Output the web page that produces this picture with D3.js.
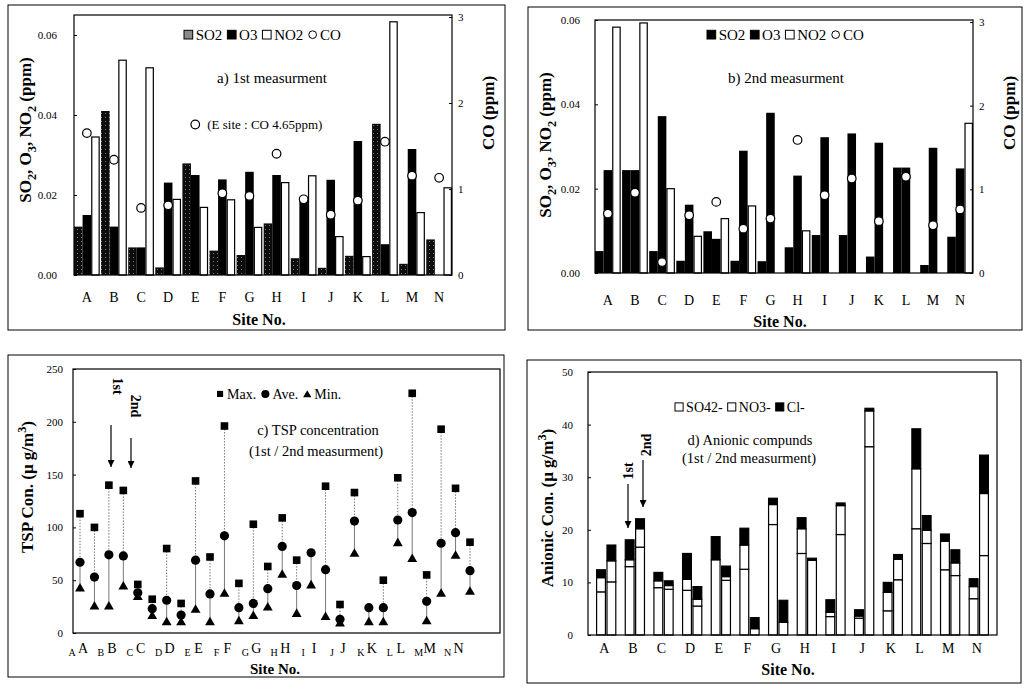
<!DOCTYPE html>
<html>
<head>
<meta charset="utf-8">
<script src="https://cdn.jsdelivr.net/npm/d3@7"></script>
<style>
  body { margin: 0; background: #fff; }
  svg { font-family: "Liberation Serif", "Times New Roman", serif; }
  .axis line { stroke: #000; }
  .axis text { font-size: 11px; fill: #000; font-family: "Liberation Serif", serif; }
</style>
</head>
<body>
<svg id="fig" width="1028" height="691"></svg>
<script>
// sites
var sites = ["A", "B", "C", "D", "E", "F", "G", "H", "I", "J", "K", "L", "M", "N"];

// a) 1st measurement (ppm)
var so2First = [0.0121, 0.041, 0.0069, 0.0019, 0.0279, 0.0061, 0.005, 0.0129, 0.0042, 0.0018, 0.0048, 0.0378, 0.0028, 0.0089];
var o3First = [0.015, 0.0121, 0.0069, 0.0231, 0.025, 0.0239, 0.0258, 0.025, 0.0188, 0.0238, 0.0335, 0.0077, 0.0315, 0];
var no2First = [0.0345, 0.0537, 0.0518, 0.0189, 0.0169, 0.0188, 0.0119, 0.0231, 0.0248, 0.0096, 0.0046, 0.0633, 0.0156, 0.0218];
var coFirst = [1.65, 1.34, 0.78, 0.81, 4.65, 0.95, 0.92, 1.41, 0.88, 0.7, 0.865, 1.55, 1.155, 1.13];

// b) 2nd measurement (ppm)
var so2Second = [0.0052, 0.0244, 0.0052, 0.0029, 0.0099, 0.0029, 0.0028, 0.0061, 0.009, 0.009, 0.0039, 0.025, 0.0019, 0.0086];
var o3Second = [0.0244, 0.0244, 0.0372, 0.0162, 0.0081, 0.029, 0.038, 0.0231, 0.0322, 0.0331, 0.0309, 0.025, 0.0297, 0.0248];
var no2Second = [0.0583, 0.0593, 0.020, 0.0087, 0.0129, 0.0159, 0, 0.0100, 0, 0, 0, 0, 0, 0.0355];
var coSecond = [0.71, 0.96, 0.13, 0.69, 0.85, 0.53, 0.65, 1.59, 0.93, 1.13, 0.62, 1.15, 0.57, 0.76];

// c) TSP (ug/m3), 1st and 2nd measurement
var tspMax1 = [113, 140, 46, 80, 144, 196, 103, 109, null, 27, null, 147, 55, 137];
var tspAve1 = [67, 74, 38, 31, 69, 92, 28, 82, 76, 13, 24, 107, 30, 95];
var tspMin1 = [41, 24, 33, 9, 21, 36, 15, 54, 44, 8, 9, 84, 10, 72];
var tspMax2 = [100, 135, 32, 28, 72, 47, 63, 69, 139, 133, 50, 227, 193, 86];
var tspAve2 = [53, 73, 23, 17, 37, 24, 42, 45, 60, 106, 24, 114, 85, 59];
var tspMin2 = [24, 43, 15, 9, 9, 10, 23, 17, 14, 74, 9, 69, 36, 38];

// d) anionic compounds (ug/m3), 1st and 2nd measurement
var so4First = [8.2, 13.0, 9.0, 8.5, 14.3, 12.5, 21.0, 15.5, 3.5, 3.2, 4.6, 20.2, 12.4, 6.9];
var no3First = [2.7, 1.3, 1.3, 2.1, 0, 4.6, 3.8, 4.7, 0.8, 0.4, 3.5, 11.4, 5.4, 2.3];
var clFirst = [1.5, 3.8, 1.6, 4.9, 4.4, 3.2, 1.2, 2.1, 2.4, 1.2, 1.9, 7.6, 1.4, 1.5];
var so4Second = [10.1, 16.7, 8.7, 5.5, 10.4, 1.2, 2.4, 14.2, 19.1, 35.8, 10.5, 17.4, 11.3, 15.1];
var no3Second = [4.0, 3.5, 0.7, 1.3, 0.7, 0, 0, 0, 5.5, 6.8, 3.9, 2.5, 2.4, 11.8];
var clSecond = [3.0, 1.9, 0.9, 2.4, 2.0, 2.1, 4.2, 0.4, 0.5, 0.5, 0.9, 2.8, 2.5, 7.3];

// tick labels
var gasTicks = [0, 0.02, 0.04, 0.06];
var coTicks = [0, 1, 2, 3];
var tspTicks = [0, 50, 100, 150, 200, 250];
var anionTicks = [0, 10, 20, 30, 40, 50];

var svg = d3.select("#fig");
var defs = svg.append("defs");
// stippled fill for SO2 bars of the 1st measurement
var stip = defs.append("pattern").attr("id", "stip")
  .attr("patternUnits", "userSpaceOnUse").attr("width", 4).attr("height", 4);
stip.append("rect").attr("width", 4).attr("height", 4).attr("fill", "#0d0d0d");
stip.append("rect").attr("x", 1).attr("y", 1).attr("width", 1).attr("height", 1).attr("fill", "#777");
var mk = defs.append("marker").attr("id", "arr").attr("viewBox", "0 0 10 10")
  .attr("refX", 10).attr("refY", 5).attr("markerWidth", 8).attr("markerHeight", 7)
  .attr("markerUnits", "userSpaceOnUse").attr("orient", "auto");
mk.append("path").attr("d", "M0,0L10,5L0,10Z").attr("fill", "#000");

function frame(g, f) {
  g.append("rect").attr("x", f[0]).attr("y", f[1])
    .attr("width", f[2] - f[0]).attr("height", f[3] - f[1])
    .attr("fill", "none").attr("stroke", "#000").attr("stroke-width", 1);
}

// text with sub (1) / sup (-1) parts
function richText(g, parts, size) {
  var t = g.append("text").attr("font-size", size);
  var prev = 0;
  parts.forEach(function (p) {
    var s = typeof p === "string" ? 0 : p[1];
    var txt = typeof p === "string" ? p : p[0];
    var lvl = function (v) { return v > 0 ? 0.3 : v < 0 ? -0.4 : 0; };
    var ts = t.append("tspan").text(txt).attr("dy", (lvl(s) - lvl(prev)) * size);
    if (s !== 0) ts.attr("font-size", size * 0.72);
    prev = s;
  });
  return t;
}

function yLabel(g, x, y, parts, size) {
  richText(g, parts, size).attr("font-weight", "bold").attr("text-anchor", "middle")
    .attr("transform", "translate(" + x + "," + y + ") rotate(-90)");
}

function legend(g, x0, y0, items, size) {
  var cx = x0;
  var s = size * 0.58;
  items.forEach(function (it) {
    if (it.shape === "rect") {
      g.append("rect").attr("x", cx).attr("y", y0 - s - 1).attr("width", s).attr("height", s)
        .attr("fill", it.fill).attr("stroke", it.stroke || "#000").attr("stroke-width", 1);
    } else if (it.shape === "ring") {
      g.append("circle").attr("cx", cx + s / 2).attr("cy", y0 - s / 2 - 1).attr("r", s / 2 - 0.5)
        .attr("fill", "#fff").attr("stroke", "#000").attr("stroke-width", 1);
    } else if (it.shape === "sq") {
      g.append("rect").attr("x", cx + 1).attr("y", y0 - s).attr("width", s - 2).attr("height", s - 2).attr("fill", "#000");
    } else if (it.shape === "dot") {
      g.append("circle").attr("cx", cx + s / 2).attr("cy", y0 - s / 2 - 1).attr("r", s / 2).attr("fill", "#000");
    } else if (it.shape === "tri") {
      g.append("path").attr("d", d3.symbol(d3.symbolTriangle).size(30)())
        .attr("transform", "translate(" + (cx + s / 2) + "," + (y0 - s / 2) + ")").attr("fill", "#000");
    }
    cx += s + 3;
    var t = g.append("text").attr("x", cx).attr("y", y0).attr("font-size", size).text(it.label);
    cx += t.node().getComputedTextLength() + 5;
  });
}

// ---------- panels a and b ----------
function gasPanel(cfg) {
  var g = svg.append("g");
  var b = cfg.box;
  frame(g, cfg.frame);
  var x = d3.scaleBand().domain(sites).range([b.l, b.r]).paddingInner(0.05);
  var xs = d3.scaleBand().domain(["so2", "o3", "no2"]).range([0, x.bandwidth()]);
  var y = d3.scaleLinear().domain([0, cfg.yMax]).range([b.b, b.t]);
  var yc = d3.scaleLinear().domain([0, 3]).range([b.b, cfg.coTop]);

  var series = [
    { key: "so2", vals: cfg.so2, fill: cfg.so2Fill, stroke: "none" },
    { key: "o3", vals: cfg.o3, fill: "#000", stroke: "none" },
    { key: "no2", vals: cfg.no2, fill: "#fff", stroke: "#000" }
  ];
  series.forEach(function (s) {
    g.selectAll(".b" + s.key)
      .data(s.vals.map(function (v, i) { return { site: sites[i], v: v }; }).filter(function (d) { return d.v > 0; }))
      .enter()
      .append("rect")
      .attr("x", function (d) { return x(d.site) + xs(s.key) + (s.stroke === "none" ? 0 : 0.6); })
      .attr("y", function (d) { return y(d.v); })
      .attr("width", xs.bandwidth() - (s.stroke === "none" ? 0 : 1.2))
      .attr("height", function (d) { return y(0) - y(d.v); })
      .attr("fill", s.fill)
      .attr("stroke", s.stroke)
      .attr("stroke-width", 1.2);
  });

  g.selectAll(".co")
    .data(cfg.co)
    .enter()
    .append("circle")
    .attr("cx", function (d, i) { return x(sites[i]) + x.bandwidth() / 2; })
    .attr("cy", function (d) { return yc(d > 3 ? cfg.coOff : d); })
    .attr("r", 4.3)
    .attr("fill", "#fff")
    .attr("stroke", "#000")
    .attr("stroke-width", 1.2);

  // plot box
  g.append("rect").attr("x", b.l).attr("y", b.t).attr("width", b.r - b.l).attr("height", b.b - b.t)
    .attr("fill", "none").attr("stroke", "#000").attr("stroke-width", 1.2);

  var ax = g.append("g").attr("class", "axis").attr("transform", "translate(" + b.l + ",0)")
    .call(d3.axisLeft(y).tickValues(gasTicks).tickFormat(d3.format(".2f"))
      .tickSizeInner(-3).tickSizeOuter(0).tickPadding(cfg.padL));
  ax.select(".domain").remove();
  var ar = g.append("g").attr("class", "axis").attr("transform", "translate(" + b.r + ",0)")
    .call(d3.axisRight(yc).tickValues(coTicks).tickFormat(d3.format("d"))
      .tickSizeInner(-3).tickSizeOuter(0).tickPadding(6));
  ar.select(".domain").remove();

  g.selectAll(".xl").data(sites).enter().append("text")
    .attr("x", function (d) { return x(d) + x.bandwidth() / 2; })
    .attr("y", cfg.xlabY)
    .attr("text-anchor", "middle").attr("font-size", 14)
    .text(function (d) { return d; });
  g.append("text").attr("x", (b.l + b.r) / 2 - 4).attr("y", cfg.siteY).attr("text-anchor", "middle")
    .attr("font-size", 16).attr("font-weight", "bold").text("Site No.");

  yLabel(g, cfg.frame[0] + 23, cfg.yLabY, ["SO", ["2", 1], ", O", ["3", 1], ", NO", ["2", 1], " (ppm)"], 17);
  yLabel(g, b.r + 42, 113, ["CO  (ppm)"], 17);

  legend(g, cfg.legX, 40, [
    { shape: "rect", fill: cfg.so2Leg, label: "SO2" },
    { shape: "rect", fill: "#000", label: "O3" },
    { shape: "rect", fill: "#fff", label: "NO2" },
    { shape: "ring", label: "CO" }
  ], 15);
  g.append("text").attr("x", cfg.titleX).attr("y", 83).attr("text-anchor", "middle")
    .attr("font-size", 15).text(cfg.title);

  if (cfg.note) {
    var iE = cfg.co.findIndex(function (v) { return v > 3; });
    g.append("text").attr("x", x(sites[iE]) + x.bandwidth() / 2 + 12).attr("y", yc(cfg.coOff) + 4)
      .attr("font-size", 13).text(cfg.note);
  }
}

gasPanel({
  frame: [8, 5, 505, 330], box: { l: 74, t: 15, r: 452, b: 275 },
  yMax: 0.065, coTop: 17,
  so2: so2First, o3: o3First, no2: no2First, co: coFirst,
  so2Fill: "url(#stip)", so2Leg: "#8a8a8a",
  padL: 17, xlabY: 302, siteY: 325, yLabY: 130,
  legX: 184, title: "a) 1st measurment", titleX: 272,
  coOff: 1.75, note: "(E site : CO 4.65ppm)"
});

gasPanel({
  frame: [528, 7, 1022, 330], box: { l: 595, t: 20, r: 973, b: 273 },
  yMax: 0.06, coTop: 22,
  so2: so2Second, o3: o3Second, no2: no2Second, co: coSecond,
  so2Fill: "#000", so2Leg: "#000",
  padL: 15, xlabY: 305, siteY: 327, yLabY: 145,
  legX: 707, title: "b) 2nd measurment", titleX: 786,
  coOff: 3
});

// ---------- panel c ----------
(function () {
  var g = svg.append("g");
  frame(g, [8, 355, 504, 677]);
  var b = { l: 73, t: 369, r: 500, b: 633 };
  var y = d3.scaleLinear().domain([0, 250]).range([b.b, b.t]);
  var px = d3.scaleLinear().domain([0, 2 * sites.length - 1]).range([80, 470]);
  var pts = [];
  sites.forEach(function (s, i) {
    pts.push({ site: s, pos: 2 * i, max: tspMax1[i], ave: tspAve1[i], min: tspMin1[i] });
    pts.push({ site: s, pos: 2 * i + 1, max: tspMax2[i], ave: tspAve2[i], min: tspMin2[i] });
  });

  g.selectAll(".wu").data(pts.filter(function (d) { return d.max != null; })).enter().append("line")
    .attr("x1", function (d) { return px(d.pos); }).attr("x2", function (d) { return px(d.pos); })
    .attr("y1", function (d) { return y(d.max); }).attr("y2", function (d) { return y(d.ave); })
    .attr("stroke", "#777").attr("stroke-width", 1).attr("stroke-dasharray", "1.5,1.5");
  g.selectAll(".wl").data(pts).enter().append("line")
    .attr("x1", function (d) { return px(d.pos); }).attr("x2", function (d) { return px(d.pos); })
    .attr("y1", function (d) { return y(d.ave); }).attr("y2", function (d) { return y(d.min); })
    .attr("stroke", "#555").attr("stroke-width", 0.8);

  g.selectAll(".mx").data(pts.filter(function (d) { return d.max != null; })).enter().append("rect")
    .attr("x", function (d) { return px(d.pos) - 3.8; }).attr("y", function (d) { return y(d.max) - 3.8; })
    .attr("width", 7.6).attr("height", 7.6).attr("fill", "#000");
  g.selectAll(".av").data(pts).enter().append("circle")
    .attr("cx", function (d) { return px(d.pos); }).attr("cy", function (d) { return y(d.ave); })
    .attr("r", 4.6).attr("fill", "#000");
  g.selectAll(".mn").data(pts).enter().append("path")
    .attr("d", d3.symbol(d3.symbolTriangle).size(42)())
    .attr("transform", function (d) { return "translate(" + px(d.pos) + "," + (y(d.min) - 1) + ")"; })
    .attr("fill", "#000");

  g.append("rect").attr("x", b.l).attr("y", b.t).attr("width", b.r - b.l).attr("height", b.b - b.t)
    .attr("fill", "none").attr("stroke", "#000").attr("stroke-width", 1.2);
  var ax = g.append("g").attr("class", "axis").attr("transform", "translate(" + b.l + ",0)")
    .call(d3.axisLeft(y).tickValues(tspTicks).tickSizeInner(-3).tickSizeOuter(0).tickPadding(10));
  ax.select(".domain").remove();

  // paired site labels: small one then large one
  g.selectAll(".xs").data(sites).enter().append("text")
    .attr("x", function (d, i) { return px(2 * i) - 8; }).attr("y", 656)
    .attr("text-anchor", "middle").attr("font-size", 10).text(function (d) { return d; });
  g.selectAll(".xb").data(sites).enter().append("text")
    .attr("x", function (d, i) { return px(2 * i) + 3; }).attr("y", 653)
    .attr("text-anchor", "middle").attr("font-size", 14).text(function (d) { return d; });
  g.append("text").attr("x", 275).attr("y", 674).attr("text-anchor", "middle")
    .attr("font-size", 15).attr("font-weight", "bold").text("Site No.");

  yLabel(g, 33, 487, ["TSP Con. (\u03bc g/m", ["3", -1], ")"], 17);

  legend(g, 216, 399, [
    { shape: "sq", label: "Max." },
    { shape: "dot", label: "Ave." },
    { shape: "tri", label: "Min." }
  ], 14);
  g.append("text").attr("x", 318).attr("y", 435).attr("text-anchor", "middle").attr("font-size", 14.5)
    .text("c) TSP concentration");
  g.append("text").attr("x", 316).attr("y", 456).attr("text-anchor", "middle").attr("font-size", 14.5)
    .text("(1st / 2nd measurment)");

  // measurement arrows
  g.append("line").attr("x1", 111).attr("y1", 425).attr("x2", 111).attr("y2", 467)
    .attr("stroke", "#000").attr("stroke-width", 1.2).attr("marker-end", "url(#arr)");
  g.append("line").attr("x1", 131).attr("y1", 438).attr("x2", 131).attr("y2", 468)
    .attr("stroke", "#000").attr("stroke-width", 1.2).attr("marker-end", "url(#arr)");
  g.append("text").attr("transform", "translate(113,386) rotate(90)").attr("text-anchor", "middle")
    .attr("font-size", 14).attr("font-weight", "bold").text("1st");
  g.append("text").attr("transform", "translate(131,406) rotate(90)").attr("text-anchor", "middle")
    .attr("font-size", 14).attr("font-weight", "bold").text("2nd");
})();

// ---------- panel d ----------
(function () {
  var g = svg.append("g");
  frame(g, [527, 360, 1021, 683]);
  var b = { l: 588, t: 372, r: 997, b: 635 };
  var x = d3.scaleBand().domain(sites).range([b.l, b.r]).paddingInner(0.33).paddingOuter(0.3);
  var xm = d3.scaleBand().domain([0, 1]).range([0, x.bandwidth()]).paddingInner(0.15);
  var y = d3.scaleLinear().domain([0, 50]).range([b.b, b.t]);

  var rows = [];
  sites.forEach(function (s, i) {
    rows.push({ site: s, m: 0, so4: so4First[i], no3: no3First[i], cl: clFirst[i] });
    rows.push({ site: s, m: 1, so4: so4Second[i], no3: no3Second[i], cl: clSecond[i] });
  });
  var stacked = d3.stack().keys(["so4", "no3", "cl"])(rows);
  var fills = { so4: "#fff", no3: "#fff", cl: "#000" };

  g.selectAll(".layer").data(stacked).enter().append("g")
    .attr("fill", function (d) { return fills[d.key]; })
    .selectAll("rect").data(function (d) { return d; }).enter().append("rect")
    .attr("x", function (d) { return x(d.data.site) + xm(d.data.m); })
    .attr("y", function (d) { return y(d[1]); })
    .attr("width", xm.bandwidth())
    .attr("height", function (d) { return y(d[0]) - y(d[1]); })
    .attr("stroke", "#000").attr("stroke-width", 1.2);

  g.append("rect").attr("x", b.l).attr("y", b.t).attr("width", b.r - b.l).attr("height", b.b - b.t)
    .attr("fill", "none").attr("stroke", "#000").attr("stroke-width", 1.2);
  var ax = g.append("g").attr("class", "axis").attr("transform", "translate(" + b.l + ",0)")
    .call(d3.axisLeft(y).tickValues(anionTicks).tickSizeInner(-3).tickSizeOuter(0).tickPadding(15));
  ax.select(".domain").remove();

  g.selectAll(".xl").data(sites).enter().append("text")
    .attr("x", function (d) { return x(d) + x.bandwidth() / 2 - 2; }).attr("y", 653)
    .attr("text-anchor", "middle").attr("font-size", 14).text(function (d) { return d; });
  g.append("text").attr("x", 788).attr("y", 675).attr("text-anchor", "middle")
    .attr("font-size", 16).attr("font-weight", "bold").text("Site No.");

  yLabel(g, 553, 508, ["Anionic Con. (\u03bc g/m", ["3", -1], ")"], 17);

  legend(g, 675, 412, [
    { shape: "rect", fill: "#fff", label: "SO42-" },
    { shape: "rect", fill: "#fff", label: "NO3-" },
    { shape: "rect", fill: "#000", label: "Cl-" }
  ], 14);
  g.append("text").attr("x", 750).attr("y", 445).attr("text-anchor", "middle").attr("font-size", 14.5)
    .text("d) Anionic compunds");
  g.append("text").attr("x", 749).attr("y", 463).attr("text-anchor", "middle").attr("font-size", 14.5)
    .text("(1st / 2nd measurment)");

  g.append("line").attr("x1", 628).attr("y1", 484).attr("x2", 628).attr("y2", 528)
    .attr("stroke", "#000").attr("stroke-width", 1.2).attr("marker-end", "url(#arr)");
  g.append("line").attr("x1", 643).attr("y1", 460).attr("x2", 643).attr("y2", 507)
    .attr("stroke", "#000").attr("stroke-width", 1.2).attr("marker-end", "url(#arr)");
  g.append("text").attr("transform", "translate(633,471) rotate(-90)").attr("text-anchor", "middle")
    .attr("font-size", 14).attr("font-weight", "bold").text("1st");
  g.append("text").attr("transform", "translate(651,445) rotate(-90)").attr("text-anchor", "middle")
    .attr("font-size", 14).attr("font-weight", "bold").text("2nd");
})();
</script>
</body>
</html>
